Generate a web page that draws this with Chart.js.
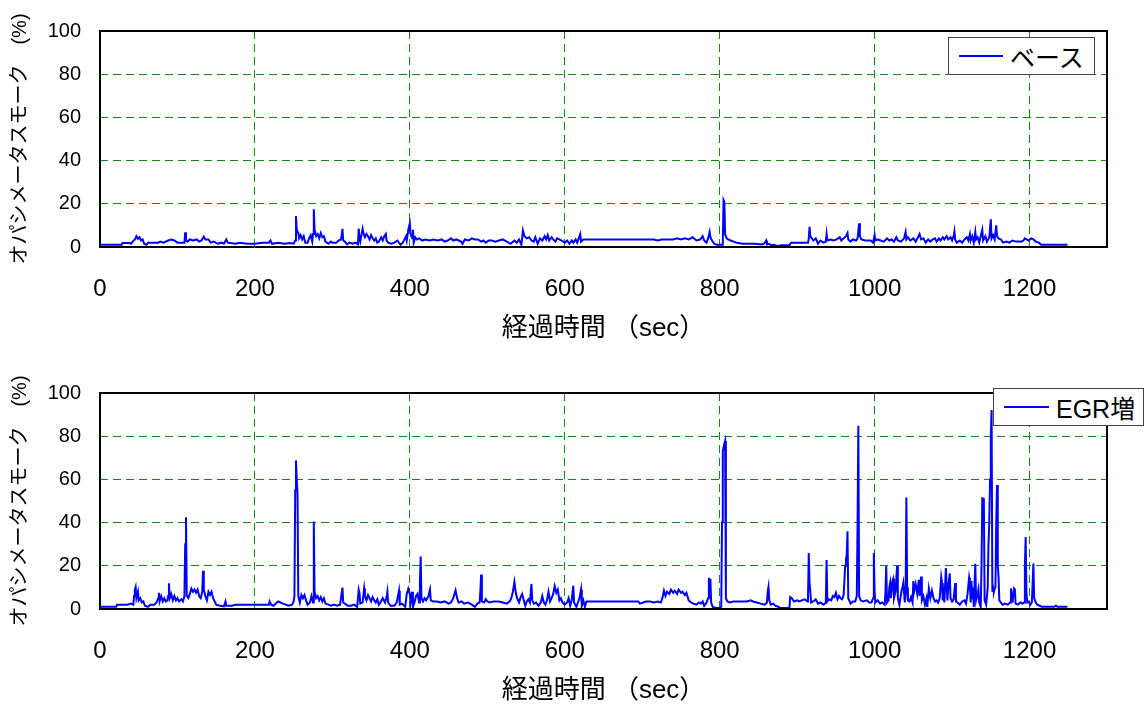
<!DOCTYPE html>
<html>
<head>
<meta charset="utf-8">
<script src="https://cdn.jsdelivr.net/npm/chart.js@4"></script>
<style>
body { margin: 0; background: #fff; width: 1146px; height: 707px; overflow: hidden; position: relative;
       font-family: "Liberation Sans", "Noto Sans CJK JP", sans-serif; }
.panel { position: absolute; left: 0; width: 1146px; height: 362px; }
.legend { position: absolute; z-index: 2; background: #fff; border: 1px solid #444; box-sizing: border-box;
          display: flex; align-items: center; font-size: 25px; color: #000; white-space: nowrap; }
.legend i { display: inline-block; height: 2px; background: #0000ff; margin: 0 7px 0 10px; }
</style>
</head>
<body>
<div class="panel" style="top:0"><canvas id="baseChart" width="1146" height="362"></canvas></div>
<div class="panel" style="top:362px"><canvas id="egrChart" width="1146" height="362"></canvas></div>
<div class="legend" style="left:948px;top:37px;width:147px;height:38px"><i style="width:44px"></i>ベース</div>
<div class="legend" style="left:993px;top:388px;width:151px;height:38px"><i style="width:45px"></i>EGR増</div>
<script>
// elapsed time (sec) and smoke (%)
const baseTime = [0,10,28,29,38,40,42,45,47,49,51,53,55,57,60,62,75,78,82,88,92,96,100,105,109,110,111,113,116,120,125,128,131,134,136,140,143,147,152,157,160,163,165,175,180,190,200,210,218,220,222,230,238,245,250,252,253,254,256,257,259,261,263,265,268,270,272,274,275,276,277,279,281,283,285,287,289,291,295,298,300,305,308,311,312,313,314,316,319,322,326,330,333,334,335,336,339,340,342,344,346,348,350,352,354,356,358,360,363,365,367,369,370,372,376,380,384,388,391,393,395,396,398,400,401,403,404,405,407,409,412,416,420,426,430,436,441,445,449,453,456,460,463,466,468,471,476,480,484,488,492,495,498,502,506,510,515,520,525,530,535,538,541,544,546,548,551,554,557,560,562,565,568,571,574,576,578,580,583,585,588,590,593,596,598,600,603,606,609,611,614,616,618,620,621,624,630,650,680,700,715,720,725,740,745,750,755,760,765,770,775,778,780,783,785,787,788,790,793,796,803,804,805,806,807,809,811,814,818,822,830,835,845,855,858,860,861,864,866,870,874,880,890,892,910,914,915,916,917,919,921,924,927,930,934,937,938,939,943,947,951,955,957,960,963,965,966,969,972,976,978,980,981,983,988,995,998,1000,1001,1004,1008,1012,1016,1019,1022,1025,1028,1030,1034,1038,1040,1041,1043,1046,1050,1053,1056,1058,1060,1063,1066,1069,1072,1075,1078,1080,1083,1085,1088,1090,1093,1095,1098,1100,1102,1103,1104,1106,1110,1113,1116,1119,1121,1123,1124,1126,1128,1130,1131,1133,1135,1137,1139,1140,1143,1145,1148,1150,1151,1153,1155,1157,1158,1160,1163,1166,1170,1174,1178,1182,1186,1190,1192,1194,1196,1199,1202,1205,1208,1212,1215,1230,1249];
const baseValue = [1,1,1,1.8,1.8,1.5,2.5,3.5,5,3.8,4.5,3,3.5,1.5,1,2,2,2.5,2,3,3.5,3,2,2,2,6.8,3,2.5,3.5,3,3.5,2.5,3,4.8,3.5,3.5,2,2.5,1.5,2,1.5,3.5,2,1.5,2,1.5,1.5,2,2,3,1.5,2,1.5,1.8,1.5,3,14.3,8,6.5,4,5.5,3.5,5,2,2,4,5.5,2.5,6,17.5,8,5,6,4,6.5,4.5,5,2.5,1.5,2.5,2,2,3,3.5,5.5,8.4,3,2.5,1.2,2,1.5,2,1.2,8.5,4,2.5,8.4,6.5,4.5,6,5,3.5,5.5,4,3,4,2,2.5,4.5,3,5,6,3,2,1.5,2,3,1,2,3.5,5,3,8,11,6,4,8,2,4.5,3.5,4,3,3.5,3,3.5,3,3.5,2.5,3,4,3,3.5,3,2.5,1.5,3.5,3,4,3.5,3.5,2.5,3,2,3,3,2.5,3,3.5,2.5,1.5,3,2,3.5,1,7.7,5,4,4.5,3,2.5,4.5,1.5,4,3,5,3.5,5.5,3,4.5,3.5,2.5,4,3.5,3,2.5,2,3,1.5,3,2,3.5,2,4,6,2.5,3.5,3.5,3.5,3.5,3.5,3.5,3,3.5,3.5,4,3.5,4,3.5,4.5,3,3.5,5,3,2,4,7,4.5,3,1.5,1,1,2,21.8,21,6,4,3.5,3,2.5,2,1.5,1.5,1.5,1.2,1.8,3,1.2,1.5,0.8,1,0.5,0.8,0.8,2,2,2,4,9.3,5,4,3,4,1.5,3,2,2.5,6,3,3.5,3,3.5,4.5,3,4,5,6.5,3.5,2.5,3.5,3,4,11,5,3.5,3,3,2,5.5,3,3.5,3,2.5,4,3,3.5,2.5,4.5,3,2.5,4,7,3.5,4.5,3,4,2.5,4.5,6,3.5,4,2,3.5,2.5,3.5,4,2.5,4,3,4.5,3.5,5,3.5,4.5,3,5,7.2,3.5,2,3,2,3.5,4.5,3,6,3,5,2,7,3.5,4.5,2,5,8,3,5,2.5,4.5,12.8,4,5.5,3.5,10,5,4,3.5,2,2.5,2,3,2.5,2.5,2.5,3,4,3.5,3,4,3.5,2.5,2,1,1,1];

const egrTime = [0,10,21,22,35,40,43,44,45,46,47,49,50,52,54,56,58,62,65,70,73,75,76,77,79,81,83,85,87,88,89,90,92,94,96,98,100,102,105,107,109,110,111,112,114,116,118,120,122,124,126,128,130,132,133,134,136,138,140,142,144,146,148,150,155,160,162,163,170,175,200,215,218,219,221,224,227,230,233,236,240,243,248,250,251,252,253,254,255,256,258,260,262,264,266,268,271,273,275,276,277,279,281,283,285,287,289,291,295,298,302,306,310,312,313,314,316,320,324,328,332,334,335,336,339,341,342,344,346,348,350,352,354,356,358,360,362,365,368,370,371,372,375,380,383,386,387,390,394,396,398,400,401,403,404,406,408,410,412,413,414,415,417,419,421,424,426,427,430,435,440,445,450,453,456,459,461,463,467,470,475,480,484,487,490,491,492,493,496,498,500,503,508,515,520,525,529,531,533,535,537,539,541,543,545,547,549,551,553,555,557,558,560,563,566,569,571,573,575,577,579,581,583,585,587,589,591,593,595,597,600,603,605,607,609,611,612,615,617,619,621,622,624,626,628,640,660,680,695,697,705,710,715,720,724,726,728,730,732,735,737,740,742,745,747,750,752,755,757,760,763,766,770,773,776,778,780,783,785,786,787,788,789,791,795,800,802,803,804,806,807,808,810,813,818,825,835,840,843,848,853,858,861,862,863,864,866,869,872,876,878,886,890,891,893,896,900,903,906,910,913,914,915,916,917,918,921,924,927,930,934,937,938,939,941,944,946,948,950,952,954,956,958,960,962,963,964,965,966,969,972,975,977,978,979,980,982,985,990,993,996,998,999,1000,1001,1004,1007,1010,1013,1014,1015,1016,1018,1019,1020,1021,1023,1024,1025,1027,1029,1030,1032,1035,1036,1037,1039,1040,1041,1042,1043,1045,1047,1049,1050,1051,1053,1055,1057,1058,1060,1061,1063,1065,1067,1068,1070,1072,1074,1076,1078,1080,1082,1084,1086,1087,1088,1089,1090,1092,1093,1094,1095,1097,1098,1100,1102,1104,1105,1107,1110,1113,1116,1118,1120,1122,1123,1124,1125,1126,1127,1128,1129,1130,1131,1133,1134,1135,1137,1138,1139,1141,1142,1144,1146,1147,1148,1149,1150,1151,1152,1153,1154,1155,1156,1157,1158,1159,1160,1161,1163,1165,1168,1172,1175,1176,1177,1178,1180,1181,1182,1185,1188,1191,1193,1194,1195,1196,1197,1199,1201,1203,1204,1205,1206,1208,1210,1213,1216,1225,1232,1234,1236,1249];
const egrValue = [1,1,1,2,2,2.5,2,6,9,10.2,5,8,4,5,3,3.5,1.5,1,2,2,3,5,7.5,3.5,6,3.5,5,3.5,4,6,11.9,5,7,4,6,4,5,3.5,4.5,3.5,6,30,42.5,6,5,7,9.5,8,9,7.5,9,6,5,8,17.7,9,6,4,8,6.5,8,5,3.5,2,1.5,1.2,3.5,1.5,1.5,2,2,2,2,3.5,2,1.5,2.5,3.5,3,2.5,2,1.5,2,3.5,6,55,68.8,60,53,6,3,6.5,5,6.5,4,2,3,6,3,40.5,8,5,6,4,5.5,3.5,5,2.5,2,1.5,2,1.5,2,7.5,9.9,3,2.5,1.5,1.5,2,1,9,7.5,2.5,3,9.5,6,4,6.5,5,3.5,5.5,4,3,4.5,2,3,5,3,5.5,8,3,1.5,1.5,3,8.5,2,2.5,1,7,9.4,7,3,8,1,3,6,7,3,12,24.3,5,3.5,5,4,6,9,4,3.5,3.5,3,3.5,2.5,3,5,8.7,5,3,3.5,2.5,3,2,1,2.5,3,8,16,3.5,3,4.5,3.5,3,3.5,3.5,3,2.5,3.5,5,8,12.6,7,4.5,3,5.5,7,4,1.5,3.5,4.5,3,11.6,4,2.5,3,1.5,3,6,3,2,4,8,3.5,5,7,10.6,7.5,9,4,5,3,2,3,5,1.5,4,10.8,3,1,3,5,9,1.5,4,1,3.5,3.5,3.5,3.5,3.5,2.5,3.5,3.5,3,3.5,3,5,8.5,6,8,7,9,7.5,8.5,7,9,7.5,8,6.5,7.5,4,3,2.5,2,3,2.5,3.5,1.5,3,5,14.5,5,14,3,1,0.5,0.5,1,40,73,76.5,77.8,5,3.5,3,3.5,3.5,3.5,4,3.5,3,2.5,2,3,8,10.2,4,2,2.5,1.5,1,0.5,0.5,0.5,5.5,5,3.5,4,3.5,4,4.5,3.5,5,25.9,12,8,3,3.5,4.5,2.5,3,2,3,22.7,3.5,4.5,4,6,5.5,7.5,4.5,6,5,4.5,6.5,20,23,25,36,5,2.5,3.5,3.5,6,40,84.8,6,4,3.5,4,3,3,5,25.9,8,3,4,2.5,3,2,8,20,3,4,10,12,5,13,14,5,8,20,5,2,9,10,12,3,8,51.6,10,4,3.5,5.5,3,13,8,11.5,7,13.5,6,15,4,6,2,5,1,9.5,5,8.5,5,3.5,4,3,5,14.7,12,4,10,3,19,11,4,10,16.5,5,3.5,4.5,12,3.5,3,2,3.5,4,2.5,7,14.5,12,3,13,5,10,1,11,20.9,4,7,9,3,1,20,51.3,51,4,2,10,30,40,60,80,92.1,8,10,8,9.5,10,40,57.4,20,15,4,3,2,2.5,2,3,9.5,7,3,9.5,9,2.5,2,3,2.5,3,20,33.3,8,3,3.5,2,3,12,21.1,5,3,2,1.5,1,1,1,1.5,1,1];

const xMax = 1300, xStep = 200;
const yMax = 100, yStep = 20;
const xTitle = '経過時間 （sec）';
const yTitle = 'オパシメータスモーク　(%)';

Chart.defaults.font.family = '"Liberation Sans", "Noto Sans CJK JP", sans-serif';
Chart.defaults.color = '#000';

// black box around the plot area
const framePlugin = {
  id: 'frame',
  afterDraw(chart) {
    const a = chart.chartArea, ctx = chart.ctx;
    ctx.save();
    ctx.strokeStyle = '#000';
    ctx.lineWidth = 2;
    ctx.strokeRect(a.left, a.top, a.right - a.left, a.bottom - a.top);
    ctx.restore();
  }
};

function makeChart(canvasId, label, times, values) {
  const ctx = document.getElementById(canvasId).getContext('2d');
  return new Chart(ctx, {
    type: 'line',
    data: {
      datasets: [{
        label: label,
        data: times.map((t, i) => ({ x: t, y: values[i] })),
        borderColor: '#0000ff',
        borderWidth: 2,
        pointRadius: 0,
        tension: 0,
        fill: false
      }]
    },
    options: {
      responsive: false,
      animation: false,
      devicePixelRatio: 1,
      layout: { padding: { top: 28, right: 39, left: 0, bottom: 0 } },
      plugins: { legend: { display: false }, tooltip: { enabled: false } },
      scales: {
        x: {
          type: 'linear',
          min: 0, max: xMax,
          afterFit: s => { s.height = 115; },
          ticks: { stepSize: xStep, includeBounds: false, maxRotation: 0, padding: 28, font: { size: 24 },
                   callback: v => String(v) },
          grid: {
            drawTicks: false, lineWidth: 1,
            color: c => (c.tick && c.tick.value === 0) ? 'rgba(0,0,0,0)' : '#138a13'
          },
          border: { display: false, dash: [8, 5] },
          title: { display: true, text: xTitle, font: { size: 26 }, padding: { top: 18, bottom: 18 } }
        },
        y: {
          min: 0, max: yMax,
          afterFit: s => { s.width = 100; },
          ticks: { stepSize: yStep, padding: 19, font: { size: 20 } },
          grid: {
            drawTicks: false, lineWidth: 1,
            color: c => (c.tick && (c.tick.value === 0 || c.tick.value === yMax)) ? 'rgba(0,0,0,0)' : '#138a13'
          },
          border: { display: false, dash: [8, 5] },
          title: { display: true, text: yTitle, font: { size: 20 }, padding: { top: 8, bottom: 8 } }
        }
      }
    },
    plugins: [framePlugin]
  });
}

makeChart('baseChart', 'ベース', baseTime, baseValue);
makeChart('egrChart', 'EGR増', egrTime, egrValue);
</script>
</body>
</html>
